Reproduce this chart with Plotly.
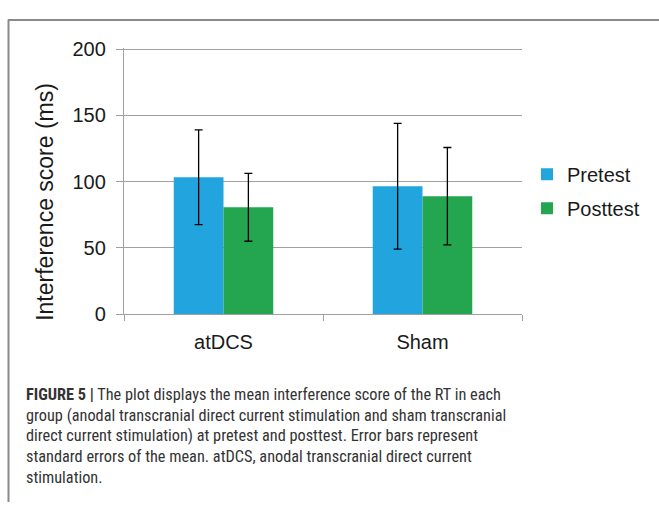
import plotly.graph_objects as go

W, H = 659, 513

groups = ["atDCS", "Sham"]
pretest = [103.4, 96.6]
pretest_err = [35.8, 47.5]
posttest = [80.6, 89.0]
posttest_err = [25.6, 36.8]
y_ticks = [0, 50, 100, 150, 200]

caption_lines = [
    "<b>FIGURE 5 |</b> The plot displays the mean interference score of the RT in each",
    "group (anodal transcranial direct current stimulation and sham transcranial",
    "direct current stimulation) at pretest and posttest. Error bars represent",
    "standard errors of the mean. atDCS, anodal transcranial direct current",
    "stimulation.",
]

BLUE = "#22a5de"
GREEN = "#23a64f"
GRID = "#a0a0a0"
FONT = "Liberation Sans, Arial, sans-serif"

def px_x(v):
    return v / W

def px_y(v):
    return 1 - v / H

fig = go.Figure()
fig.add_trace(go.Bar(
    name="Pretest", x=groups, y=pretest, marker_color=BLUE, marker_line_width=0,
    legendgroup="a",
    error_y=dict(type="data", array=pretest_err, color="black", thickness=1.3, width=4),
))
fig.add_trace(go.Bar(
    name="Posttest", x=groups, y=posttest, marker_color=GREEN, marker_line_width=0,
    legendgroup="b",
    error_y=dict(type="data", array=posttest_err, color="black", thickness=1.3, width=4),
))

annotations = []
y0 = 401
for i, line in enumerate(caption_lines):
    annotations.append(dict(
        text=line, xref="paper", yref="paper", x=px_x(24), y=px_y(y0 + i * 21.5),
        xanchor="left", yanchor="middle", showarrow=False,
        font=dict(family="Roboto Condensed, Liberation Sans Narrow, sans-serif",
                  size=16.3, color="#333333"),
    ))

annotations.append(dict(
    text="Interference score (ms)", xref="paper", yref="paper",
    x=px_x(45), y=px_y(200), textangle=-90, showarrow=False,
    xanchor="center", yanchor="middle",
    font=dict(family=FONT, size=23, color="#1a1a1a"),
))

fig.update_layout(
    width=W, height=H,
    margin=dict(l=0, r=0, t=0, b=0),
    paper_bgcolor="white", plot_bgcolor="white",
    barmode="group", bargap=0.5, bargroupgap=0,
    font=dict(family=FONT, size=20, color="#1a1a1a"),
    xaxis=dict(
        domain=[px_x(124), px_x(522)],
        showline=True, linecolor=GRID, linewidth=1.3,
        ticks="outside", ticklen=6, tickcolor=GRID, tickwidth=1.3,
        tickson="boundaries", showgrid=False,
        ticklabelstandoff=10,
        tickfont=dict(size=20, color="#1a1a1a"),
    ),
    yaxis=dict(
        domain=[px_y(317), px_y(39.6)],
        range=[0, 201], tickvals=y_ticks,
        showline=True, linecolor=GRID, linewidth=1.3,
        showgrid=True, gridcolor=GRID, gridwidth=1.3,
        ticks="outside", ticklen=7, tickcolor=GRID, tickwidth=1.3,
        ticklabelstandoff=6,
        zeroline=False,
        tickfont=dict(size=20, color="#1a1a1a"),
    ),
    legend=dict(
        x=px_x(527), y=px_y(189), xanchor="left", yanchor="middle",
        font=dict(size=20, color="#1a1a1a"), bgcolor="rgba(0,0,0,0)",
        tracegroupgap=5,
    ),
    annotations=annotations,
    shapes=[
        dict(type="line", xref="paper", yref="paper", x0=px_x(8), x1=1, y0=px_y(10.5), y1=px_y(10.5),
             line=dict(color="#8a8a8a", width=2)),
        dict(type="line", xref="paper", yref="paper", x0=px_x(8.5), x1=px_x(8.5), y0=px_y(10), y1=0,
             line=dict(color="#8a8a8a", width=2)),
    ],
)

fig.write_html("out.html")
